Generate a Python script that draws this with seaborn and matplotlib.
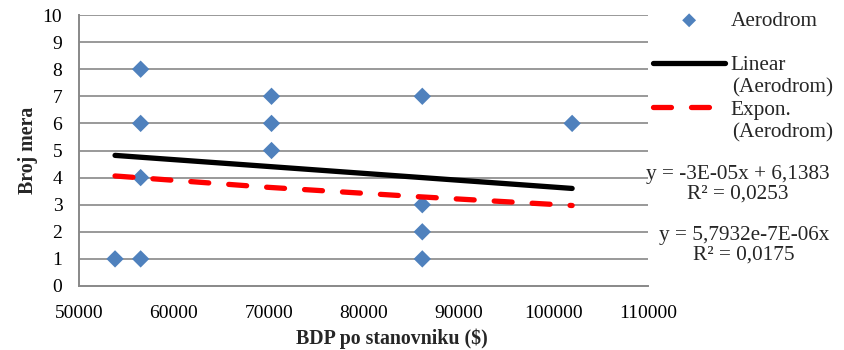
import numpy as np
import pandas as pd
import matplotlib
matplotlib.use("Agg")
import matplotlib.pyplot as plt
import seaborn as sns

# ---- data ----
bdp = [53800, 56500, 56500, 56500, 56500, 70300, 70300, 70300, 86200, 86200, 86200, 86200, 102000]
broj = [1, 1, 4, 6, 8, 5, 6, 7, 1, 2, 3, 7, 6]

lin_x = [53800, 102000]
lin_y = [4.82, 3.60]

exp_x = [53800, 70000, 86000, 102000]
exp_y = [4.06, 3.64, 3.29, 2.97]

x_ticks = [50000, 60000, 70000, 80000, 90000, 100000, 110000]
y_ticks = [0, 1, 2, 3, 4, 5, 6, 7, 8, 9, 10]

series_names = ["Aerodrom", "Linear", "Expon."]
series_suffix = "(Aerodrom)"
eq_lin = "y = -3E-05x + 6,1383\nR² = 0,0253"
eq_exp = "y = 5,7932e-7E-06x\nR² = 0,0175"

sns.set_style("white")
plt.rcParams["font.family"] = ["Liberation Serif", "DejaVu Serif"]

W, H = 845, 350
fig = plt.figure(figsize=(W / 100, H / 100), dpi=100)
ax = fig.add_axes([79 / W, 1 - 286 / H, (648 - 79) / W, (286 - 15) / H])

pts = pd.DataFrame({"x": bdp, "y": broj})
lin = pd.DataFrame({"x": lin_x, "y": lin_y})
exq = pd.DataFrame({"x": exp_x, "y": exp_y})

grid_c = "#888888"
for yv in y_ticks[1:]:
    ax.axhline(yv, color=grid_c, lw=1.2, zorder=0)

sns.scatterplot(data=pts, x="x", y="y", marker="D", s=78, color="#4F81BD",
                edgecolor="none", ax=ax, zorder=3, label=series_names[0])
sns.lineplot(data=lin, x="x", y="y", color="black", lw=3.8, ax=ax, zorder=4,
             label=series_names[1], solid_capstyle="round")
sns.lineplot(data=exq, x="x", y="y", color="#FF0000", lw=3.8, ax=ax, zorder=4,
             label=series_names[2], dashes=False, linestyle=(0, (3.4, 3.8)),
             dash_capstyle="round")

ax.set_xlim(50000, 110000)
ax.set_ylim(0, 10)
ax.set_xticks(x_ticks)
ax.set_yticks(y_ticks)
ax.set_xticklabels([str(v) for v in x_ticks])
ax.set_yticklabels([str(v) for v in y_ticks])
ax.tick_params(axis="both", length=0, labelsize=14, colors="black")
ax.tick_params(axis="x", pad=14)
ax.tick_params(axis="y", pad=12)

for s in ["top", "right"]:
    ax.spines[s].set_visible(False)
for s in ["left", "bottom"]:
    ax.spines[s].set_color(grid_c)
    ax.spines[s].set_linewidth(1.4)

ax.set_xlabel("BDP po stanovniku (\\$)", fontsize=14.3, fontweight="bold")
ax.set_ylabel("Broj mera", fontsize=14.3, fontweight="bold")
ax.xaxis.set_label_coords(0.55, -0.155)
ax.yaxis.set_label_coords(-0.072, 0.5)

ax.get_legend().remove()
h, l = ax.get_legend_handles_labels()
leg = fig.legend(h, l, loc="upper left", bbox_to_anchor=(653 / W, 1 - 11 / H),
                 frameon=False, fontsize=15.3, handlelength=3.4, handletextpad=0.26,
                 labelspacing=1.16, scatterpoints=1, markerscale=0.8,
                 borderaxespad=0, borderpad=0)

fig.text(732 / W, 1 - 88 / H, series_suffix, ha="left", va="center", fontsize=15.3)
fig.text(732 / W, 1 - 133 / H, series_suffix, ha="left", va="center", fontsize=15.3)

fig.text(738 / W, 1 - 184 / H, eq_lin, ha="center", va="center", fontsize=15.3,
         linespacing=1.05)
fig.text(744 / W, 1 - 245 / H, eq_exp, ha="center", va="center", fontsize=15.3,
         linespacing=1.05)

fig.savefig("out.png", dpi=100)
